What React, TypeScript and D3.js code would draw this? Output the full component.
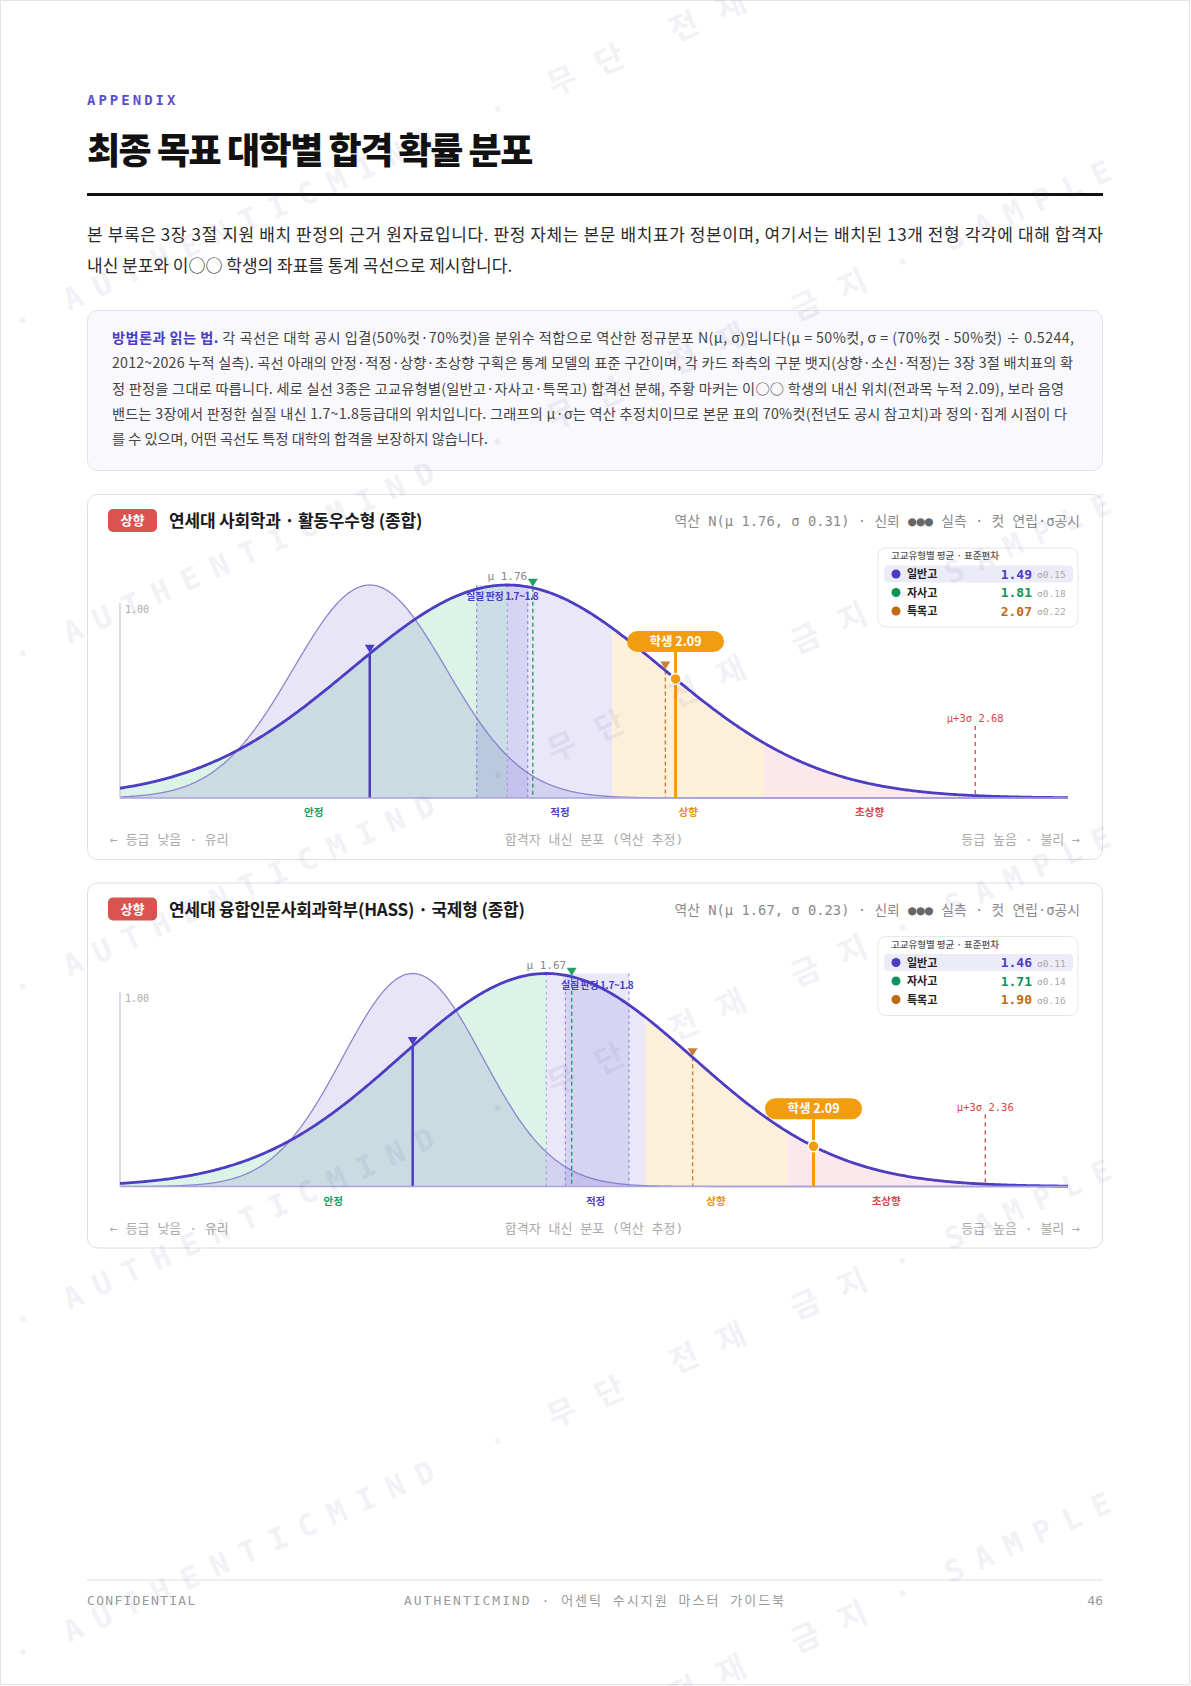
import React from "react";
import * as d3 from "d3";

const W = 1191;
const H = 1686;
const SANS = "'Noto Sans CJK KR', 'Noto Sans', sans-serif";
const MONO = "'DejaVu Sans Mono', 'Noto Sans CJK KR', monospace";

// ---- data ----
const cardBadges = ["상향", "상향"];
const cardTitles = [
  "연세대 사회학과 · 활동우수형 (종합)",
  "연세대 융합인문사회과학부(HASS) · 국제형 (종합)",
];
const cardMu = [1.76, 1.67];
const cardSigma = [0.306, 0.23];
const cardDomains = [
  [1.0, 2.86],
  [1.0, 2.49],
];
const schoolTypes = ["일반고", "자사고", "특목고"];
const typeMeans = [
  [1.49, 1.81, 2.07],
  [1.46, 1.71, 1.9],
];
const typeSigmas = [
  [0.15, 0.18, 0.22],
  [0.11, 0.14, 0.16],
];
const studentGrade = 2.09;
const judgedBand = [1.7, 1.8];
const zoneNames = ["안정", "적정", "상향", "초상향"];
const zoneUpperZ = [0, 0.674, 1.645, 3];
const highlightType = 0;

const introLines = [
  "본 부록은 3장 3절 지원 배치 판정의 근거 원자료입니다. 판정 자체는 본문 배치표가 정본이며, 여기서는 배치된 13개 전형 각각에 대해 합격자",
  "내신 분포와 이○○ 학생의 좌표를 통계 곡선으로 제시합니다.",
];
const methodLead = "방법론과 읽는 법.";
const methodLines = [
  " 각 곡선은 대학 공시 입결(50%컷·70%컷)을 분위수 적합으로 역산한 정규분포 N(μ, σ)입니다(μ = 50%컷, σ = (70%컷 - 50%컷) ÷ 0.5244,",
  "2012~2026 누적 실측). 곡선 아래의 안정·적정·상향·초상향 구획은 통계 모델의 표준 구간이며, 각 카드 좌측의 구분 뱃지(상향·소신·적정)는 3장 3절 배치표의 확",
  "정 판정을 그대로 따릅니다. 세로 실선 3종은 고교유형별(일반고·자사고·특목고) 합격선 분해, 주황 마커는 이○○ 학생의 내신 위치(전과목 누적 2.09), 보라 음영",
  "밴드는 3장에서 판정한 실질 내신 1.7~1.8등급대의 위치입니다. 그래프의 μ·σ는 역산 추정치이므로 본문 표의 70%컷(전년도 공시 참고치)과 정의·집계 시점이 다",
  "를 수 있으며, 어떤 곡선도 특정 대학의 합격을 보장하지 않습니다.",
];
const methodLengths = [962, 961, 952, 955, 0];

// ---- styles ----
const zoneFills = ["#dcf3e8", "#e9e7f8", "#fdf0da", "#fbe8ec"];
const zoneText = ["#1a9e5c", "#5040c0", "#e8900c", "#d9464b"];
const typeColors = ["#4b3cc4", "#13915a", "#c0690f"];
const typeLineColors = ["#4b3cc4", "#22a065", "#c98036"];
const MAIN = "#4c3dc2";
const ORANGE = "#f29c0f";

const norm = (g: number, m: number, s: number) => Math.exp(-0.5 * ((g - m) / s) ** 2);

function Card({ i, top }: { i: number; top: number }) {
  const mu = cardMu[i];
  const sg = cardSigma[i];
  const [d0, d1] = cardDomains[i];
  const x = d3.scaleLinear().domain([d0, d1]).range([120, 1068]);
  const base = top + 304;
  const y = d3.scaleLinear().domain([0, 1]).range([base, base - 213]);
  const samples = d3.range(0, 601).map((k) => d0 + ((d1 - d0) * k) / 600);
  const seg = (a: number, b: number) => [a, ...samples.filter((g) => g > a && g < b), b];
  const mainArea = d3
    .area<number>()
    .x((g) => x(g))
    .y0(base)
    .y1((g) => y(norm(g, mu, sg)));
  const mainLine = d3
    .line<number>()
    .x((g) => x(g))
    .y((g) => y(norm(g, mu, sg)));
  const hm = typeMeans[i][highlightType];
  const hs = typeSigmas[i][highlightType];
  const subArea = d3
    .area<number>()
    .x((g) => x(g))
    .y0(base)
    .y1((g) => y(norm(g, hm, hs)));
  const subLine = d3
    .line<number>()
    .x((g) => x(g))
    .y((g) => y(norm(g, hm, hs)));

  const lowers = [d0, ...zoneUpperZ.slice(0, 3).map((z) => mu + z * sg)];
  const uppers = zoneUpperZ.map((z) => mu + z * sg);

  const curveY = (g: number) => y(norm(g, mu, sg));
  const bx0 = x(judgedBand[0]);
  const bx1 = x(judgedBand[1]);
  const sx = x(studentGrade);
  const sy = curveY(studentGrade);
  const p3 = mu + 3 * sg;
  const lx = 878;
  const ly = top + 54;

  const tri = (cx: number, tip: number) =>
    `M${cx - 5},${tip - 8} L${cx + 5},${tip - 8} L${cx},${tip} Z`;

  return (
    <g>
      <rect x={87.5} y={top + 0.5} width={1015} height={365} rx={10} fill="#fff" stroke="#dedee6" />
      {/* header */}
      <rect x={108} y={top + 15} width={49} height={23} rx={5} fill="#d9534f" />
      <text x={132.5} y={top + 31} textAnchor="middle" fontFamily={SANS} fontSize={13} fontWeight={700} fill="#fff">
        {cardBadges[i]}
      </text>
      <text x={169} y={top + 33} fontFamily={SANS} fontSize={17} fontWeight={700} fill="#1a1a1a" letterSpacing={-0.2}>
        {cardTitles[i]}
      </text>
      <text x={1080} y={top + 32} textAnchor="end" fontFamily={MONO} fontSize={13.8} fill="#8a8a8a">
        <tspan>{`역산 N(μ ${mu.toFixed(2)}, σ ${sg.toFixed(2)}) · 신뢰 `}</tspan>
        <tspan fill="#666">●●●</tspan>
        <tspan>{" 실측 · 컷 연립·σ공시"}</tspan>
      </text>

      {/* zones */}
      {zoneNames.map((z, k) => {
        const a = lowers[k];
        const b = k === 3 ? d1 : uppers[k];
        return <path key={z} d={mainArea(seg(a, b)) || ""} fill={zoneFills[k]} />;
      })}
      {/* highlighted type distribution */}
      <path d={subArea(samples) || ""} fill="rgba(98,88,196,0.15)" />
      <path d={subLine(samples) || ""} fill="none" stroke="#8c86cf" strokeWidth={1.3} />
      {/* judged band */}
      <rect x={bx0} y={base - 213} width={bx1 - bx0} height={213} fill="rgba(95,85,205,0.13)" />
      {/* y axis */}
      <line x1={120} x2={120} y1={base - 195} y2={base} stroke="#cfcfd6" strokeWidth={1.5} />
      <text x={125} y={base - 185} fontFamily={MONO} fontSize={10} fill="#aaa">
        1.00
      </text>
      {/* band edges & mu */}
      {[bx0, bx1].map((bx, k) => (
        <line key={k} x1={bx} x2={bx} y1={base - 213} y2={base} stroke="#8680d4" strokeWidth={1} strokeDasharray="3,3" />
      ))}
      <line x1={x(mu)} x2={x(mu)} y1={base - 213} y2={base} stroke="#a29dd8" strokeWidth={1} strokeDasharray="3,3" />
      {/* type lines */}
      {schoolTypes.map((t, k) => {
        const tx = x(typeMeans[i][k]);
        const ty = curveY(typeMeans[i][k]);
        return k === highlightType ? (
          <line key={t} x1={tx} x2={tx} y1={ty} y2={base} stroke={typeLineColors[k]} strokeWidth={2.5} />
        ) : (
          <line key={t} x1={tx} x2={tx} y1={ty} y2={base} stroke={typeLineColors[k]} strokeWidth={1.4} strokeDasharray="4,3" />
        );
      })}
      {/* mu + 3 sigma */}
      <line x1={x(p3)} x2={x(p3)} y1={base - 72} y2={base} stroke="#d9464b" strokeWidth={1.3} strokeDasharray="4,4" />
      <text x={x(p3)} y={base - 76} textAnchor="middle" fontFamily={MONO} fontSize={10.5} fill="#d9464b">
        {`μ+3σ ${p3.toFixed(2)}`}
      </text>
      {/* main curve */}
      <path d={mainLine(samples) || ""} fill="none" stroke={MAIN} strokeWidth={2.8} />
      <line x1={120} x2={1068} y1={base} y2={base} stroke="#a8a3dc" strokeWidth={1.6} />
      {/* triangles */}
      {schoolTypes.map((t, k) => {
        const tx = x(typeMeans[i][k]);
        const ty = curveY(typeMeans[i][k]);
        return <path key={t} d={tri(tx, ty - 1)} fill={typeLineColors[k]} />;
      })}
      {/* student */}
      <line x1={sx} x2={sx} y1={sy - 27} y2={base} stroke={ORANGE} strokeWidth={3} />
      <circle cx={sx} cy={sy} r={5.5} fill={ORANGE} stroke="#fff" strokeWidth={1.5} />
      <rect x={sx - 48.5} y={sy - 48} width={97} height={21} rx={10.5} fill={ORANGE} />
      <text x={sx} y={sy - 33} textAnchor="middle" fontFamily={SANS} fontSize={12.5} fontWeight={700} fill="#fff">
        {`학생 ${studentGrade.toFixed(2)}`}
      </text>
      {/* labels */}
      <text x={x(mu)} y={base - 218} textAnchor="middle" fontFamily={MONO} fontSize={11} fill="#888">
        {`μ ${mu.toFixed(2)}`}
      </text>
      <text x={(bx0 + bx1) / 2} y={base - 198} textAnchor="middle" fontFamily={SANS} fontSize={10} fontWeight={700} fill="#4a3cc8" letterSpacing={-0.4}>
        {`실질 판정 ${judgedBand[0]}~${judgedBand[1]}`}
      </text>
      {zoneNames.map((z, k) => (
        <text key={z} x={(x(lowers[k]) + x(uppers[k])) / 2} y={base + 18} textAnchor="middle" fontFamily={SANS} fontSize={10.5} fontWeight={700} fill={zoneText[k]}>
          {z}
        </text>
      ))}
      <text x={110} y={base + 46} fontFamily={MONO} fontSize={13} fill="#aaa">
        ← 등급 낮음 · 유리
      </text>
      <text x={594} y={base + 46} textAnchor="middle" fontFamily={MONO} fontSize={13} fill="#aaa">
        합격자 내신 분포 (역산 추정)
      </text>
      <text x={1080} y={base + 46} textAnchor="end" fontFamily={MONO} fontSize={13} fill="#aaa">
        등급 높음 · 불리 →
      </text>
      {/* legend */}
      <rect x={lx} y={ly} width={200} height={79} rx={8} fill="#fff" stroke="#e6e6ee" />
      <text x={891} y={ly + 11} fontFamily={SANS} fontSize={9.5} fontWeight={500} fill="#555">
        고교유형별 평균 · 표준편차
      </text>
      {schoolTypes.map((t, k) => {
        const cy = ly + 26 + k * 18.5;
        return (
          <g key={t}>
            {k === highlightType && <rect x={884} y={cy - 8.5} width={189} height={17} rx={4} fill="#ecebf8" />}
            <circle cx={896} cy={cy} r={4.5} fill={typeColors[k]} />
            <text x={907} y={cy + 4} fontFamily={SANS} fontSize={11} fontWeight={700} fill="#222">
              {t}
            </text>
            <text x={1032} y={cy + 4.5} textAnchor="end" fontFamily={MONO} fontSize={13} fontWeight={700} fill={typeColors[k]}>
              {typeMeans[i][k].toFixed(2)}
            </text>
            <text x={1037} y={cy + 4} fontFamily={MONO} fontSize={9.5} fill="#aaa">
              {`σ${typeSigmas[i][k].toFixed(2)}`}
            </text>
          </g>
        );
      })}
    </g>
  );
}

const wmRows = [0, 1, 2, 3, 4, 5];

export default function App() {
  return (
    <svg
      width={W}
      height={H}
      viewBox={`0 0 ${W} ${H}`}
      style={{ position: "absolute", left: 0, top: 0, display: "block", background: "#fff" }}
    >
      <rect x={0.5} y={0.5} width={W - 2} height={H - 2} fill="#fff" stroke="#e4e4e4" />
      <text x={87} y={105} fontFamily={MONO} fontSize={14} fontWeight={700} fill="#5b4fcf" letterSpacing={3}>
        APPENDIX
      </text>
      <text x={87} y={164} fontFamily={SANS} fontSize={36} fontWeight={900} fill="#111" letterSpacing={-1.5}>
        최종 목표 대학별 합격 확률 분포
      </text>
      <rect x={87} y={193} width={1016} height={3} fill="#111" />
      <text x={87} y={241} fontFamily={SANS} fontSize={17} fill="#2a2a2a" textLength={1016} lengthAdjust="spacing">
        {introLines[0]}
      </text>
      <text x={87} y={272} fontFamily={SANS} fontSize={17} fill="#2a2a2a">
        {introLines[1]}
      </text>

      <rect x={87.5} y={310.5} width={1015} height={160} rx={10} fill="#f8f8fd" stroke="#e2e2ec" />
      {methodLines.map((ln, k) => (
        <text
          key={k}
          x={112}
          y={343 + k * 25.3}
          fontFamily={SANS}
          fontSize={14.2}
          fill="#444"
          {...(methodLengths[k] ? { textLength: methodLengths[k], lengthAdjust: "spacing" } : {})}
        >
          {k === 0 && (
            <tspan fontWeight={700} fill="#4a3cc8">
              {methodLead}
            </tspan>
          )}
          <tspan>{ln}</tspan>
        </text>
      ))}

      <Card i={0} top={494} />
      <Card i={1} top={882.5} />

      <line x1={87} x2={1103} y1={1580} y2={1580} stroke="#dddddd" strokeWidth={1} />
      <text x={87} y={1605} fontFamily={MONO} fontSize={13} fill="#9a9a9a" letterSpacing={1.3}>
        CONFIDENTIAL
      </text>
      <text x={595} y={1605} textAnchor="middle" fontFamily={MONO} fontSize={13} fill="#9a9a9a" letterSpacing={2}>
        AUTHENTICMIND · 어센틱 수시지원 마스터 가이드북
      </text>
      <text x={1103} y={1605} textAnchor="end" fontFamily={MONO} fontSize={13} fill="#9a9a9a">
        46
      </text>

      {/* watermark */}
      <g pointerEvents="none" fill="#3f3a8c" opacity={0.065}>
        {wmRows.map((k) => (
          <g key={k} transform={`translate(64.5,${301 + 333 * k}) rotate(-24)`}>
            <text x={-55} y={11} fontFamily={MONO} fontSize={30} fontWeight={700}>·</text>
            <text x={0} y={11} fontFamily={MONO} fontSize={30} fontWeight={700} letterSpacing={14}>
              AUTHENTICMIND
            </text>
            <text x={465} y={11} fontFamily={MONO} fontSize={30} fontWeight={700}>·</text>
            <text x={530} y={12} fontFamily={SANS} fontSize={31} fontWeight={700} letterSpacing={23}>
              무단 전재 금지
            </text>
            <text x={908} y={11} fontFamily={MONO} fontSize={30} fontWeight={700}>·</text>
            <text x={965} y={11} fontFamily={MONO} fontSize={30} fontWeight={700} letterSpacing={14}>
              SAMPLE
            </text>
          </g>
        ))}
      </g>
    </svg>
  );
}
